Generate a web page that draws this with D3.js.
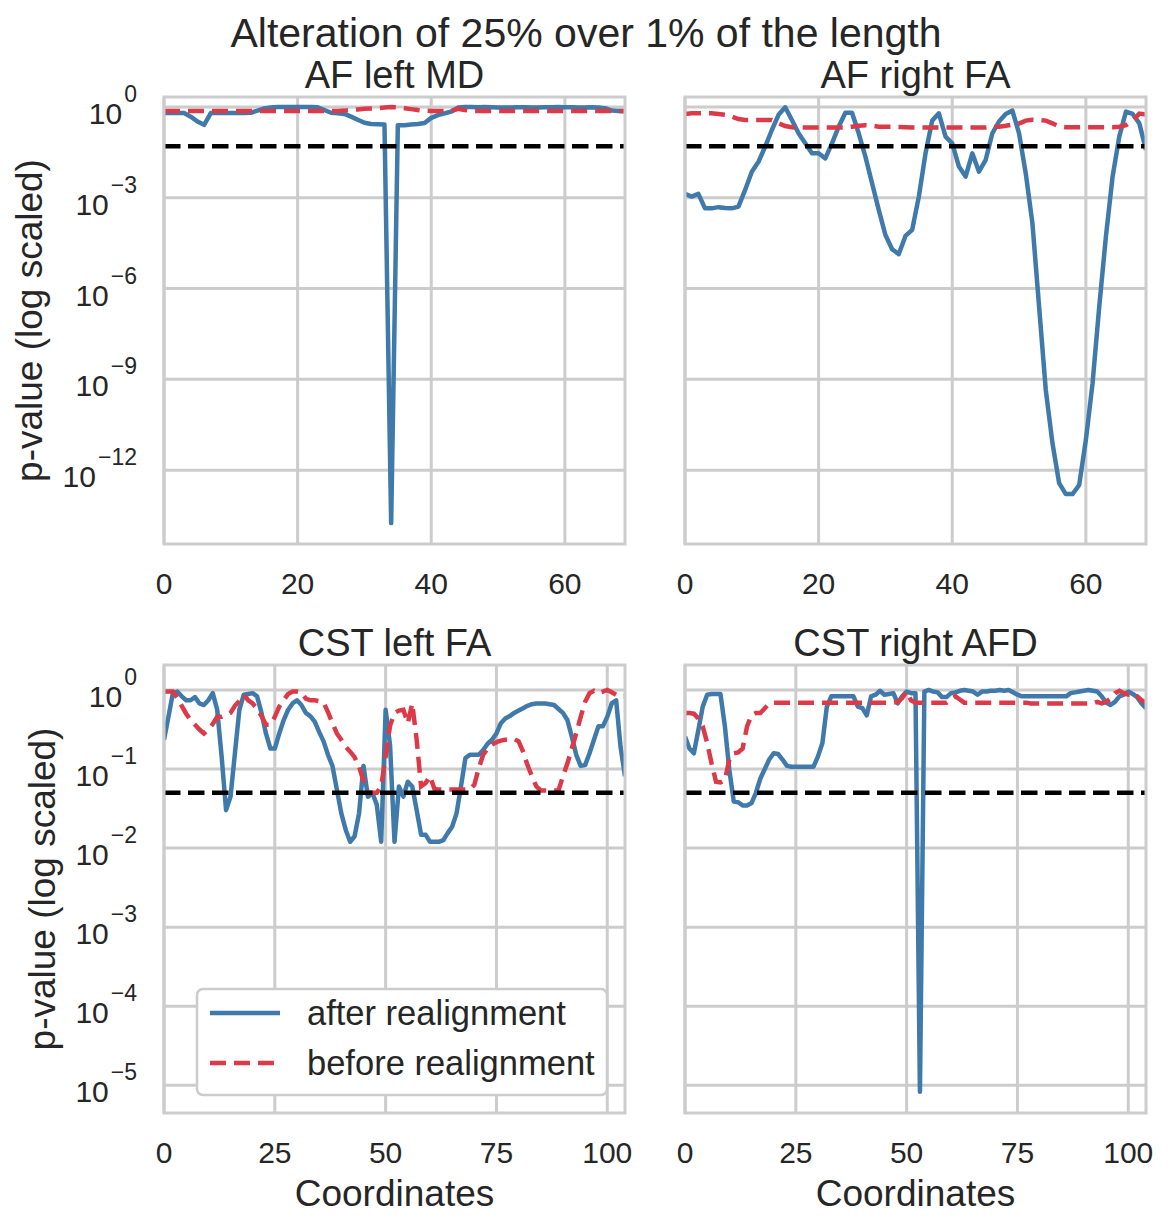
<!DOCTYPE html>
<meta charset="utf-8">
<html>
<head>
    <script src="https://cdnjs.cloudflare.com/ajax/libs/d3/7.8.5/d3.min.js"></script>
    <style type="text/css">
    body {
        margin: 0;
        background: white;
    }
    svg text {
        font-family: "Liberation Sans", Arial, sans-serif;
        fill: #262626;
    }
    </style>
</head>
<body>
<script type="text/javascript">

    // values are log10(p-value)
    var afLeftMD_after = [
        -0.2,-0.2,-0.2,-0.2,-0.32,-0.48,-0.59,-0.2,-0.2,-0.2,
        -0.2,-0.2,-0.2,-0.19,-0.12,-0.05,-0.02,0,0,0,
        0,0,0,-0.01,-0.1,-0.19,-0.21,-0.23,-0.32,-0.42,
        -0.52,-0.56,-0.57,-0.58,-13.75,-0.6,-0.6,-0.58,-0.56,-0.53,
        -0.36,-0.27,-0.21,-0.15,-0.02,0,0,-0.01,0,-0.01,
        -0.02,-0.02,-0.02,-0.01,-0.01,-0.02,-0.02,-0.01,-0.01,0,
        -0.01,-0.01,-0.02,-0.02,-0.01,-0.02,-0.04,-0.12,-0.13,-0.14
    ];
    var afLeftMD_before = [
        -0.13,-0.13,-0.13,-0.13,-0.13,-0.13,-0.13,-0.13,-0.13,-0.13,
        -0.13,-0.13,-0.13,-0.13,-0.13,-0.13,-0.13,-0.13,-0.13,-0.13,
        -0.13,-0.13,-0.13,-0.13,-0.13,-0.13,-0.13,-0.12,-0.1,-0.08,
        -0.06,-0.05,-0.04,-0.02,0,-0.01,-0.04,-0.07,-0.1,-0.12,
        -0.13,-0.13,-0.13,-0.13,-0.06,-0.1,-0.13,-0.13,-0.13,-0.13,
        -0.13,-0.13,-0.13,-0.13,-0.13,-0.13,-0.13,-0.13,-0.13,-0.13,
        -0.13,-0.13,-0.13,-0.13,-0.13,-0.13,-0.13,-0.13,-0.13,-0.13
    ];

    var afRightFA_after = [
        -2.87,-2.96,-2.87,-3.35,-3.35,-3.31,-3.34,-3.35,-3.29,-2.74,
        -2.14,-1.81,-1.31,-0.76,-0.26,-0.01,-0.43,-0.87,-1.2,-1.53,
        -1.53,-1.7,-1.2,-0.65,-0.19,-0.19,-0.87,-1.64,-2.52,-3.4,
        -4.23,-4.7,-4.86,-4.26,-4.06,-2.96,-1.53,-0.45,-0.21,-0.98,
        -1.2,-1.97,-2.3,-1.53,-2.14,-1.75,-0.87,-0.48,-0.23,-0.12,
        -0.87,-2.19,-3.84,-6.6,-9.35,-11.11,-12.43,-12.79,-12.79,-12.49,
        -11.0,-9.13,-6.6,-4.28,-2.3,-0.98,-0.15,-0.23,-0.54,-1.42
    ];
    var afRightFA_before = [
        -0.23,-0.21,-0.21,-0.21,-0.21,-0.23,-0.26,-0.32,-0.4,-0.43,
        -0.43,-0.43,-0.43,-0.43,-0.54,-0.63,-0.67,-0.68,-0.68,-0.68,
        -0.68,-0.68,-0.68,-0.68,-0.68,-0.65,-0.62,-0.6,-0.62,-0.65,
        -0.65,-0.65,-0.66,-0.67,-0.68,-0.68,-0.68,-0.68,-0.68,-0.68,
        -0.68,-0.68,-0.68,-0.68,-0.68,-0.68,-0.66,-0.65,-0.62,-0.58,
        -0.55,-0.45,-0.42,-0.43,-0.45,-0.54,-0.65,-0.67,-0.67,-0.67,
        -0.67,-0.67,-0.67,-0.67,-0.67,-0.65,-0.6,-0.45,-0.22,-0.25
    ];

    var cstLeftFA_after = [
        -0.63,-0.34,-0.04,-0.02,-0.08,-0.13,-0.13,-0.09,-0.17,-0.19,
        -0.13,-0.04,-0.25,-0.84,-1.52,-1.35,-0.8,-0.25,-0.06,-0.05,
        -0.04,-0.08,-0.29,-0.55,-0.74,-0.74,-0.55,-0.38,-0.25,-0.17,
        -0.13,-0.19,-0.29,-0.33,-0.4,-0.53,-0.65,-0.82,-0.96,-1.26,
        -1.56,-1.77,-1.92,-1.85,-1.56,-0.96,-1.35,-1.3,-1.45,-1.92,
        -0.25,-0.7,-1.92,-1.22,-1.35,-1.16,-1.22,-1.52,-1.83,-1.83,
        -1.92,-1.92,-1.92,-1.9,-1.81,-1.73,-1.56,-1.22,-0.86,-0.82,
        -0.82,-0.82,-0.76,-0.68,-0.63,-0.55,-0.42,-0.36,-0.33,-0.29,
        -0.26,-0.23,-0.2,-0.18,-0.17,-0.17,-0.17,-0.18,-0.19,-0.24,
        -0.29,-0.38,-0.59,-0.82,-0.96,-0.95,-0.8,-0.63,-0.46,-0.46,
        -0.34,-0.17,-0.13,-0.72,-1.09
    ];
    var cstLeftFA_before = [
        -0.02,-0.02,-0.02,-0.1,-0.2,-0.3,-0.38,-0.44,-0.5,-0.55,
        -0.5,-0.43,-0.34,-0.34,-0.32,-0.29,-0.2,-0.14,-0.06,-0.13,
        -0.17,-0.24,-0.33,-0.44,-0.44,-0.34,-0.21,-0.13,-0.05,-0.02,
        -0.02,-0.03,-0.11,-0.13,-0.13,-0.14,-0.16,-0.28,-0.42,-0.55,
        -0.63,-0.72,-0.78,-0.85,-0.97,-1.15,-1.3,-1.3,-1.3,-1.22,
        -0.84,-0.45,-0.29,-0.26,-0.25,-0.42,-0.17,-0.63,-1.22,-1.18,
        -1.09,-1.25,-1.26,-1.26,-1.26,-1.26,-1.26,-1.26,-1.26,-1.26,
        -1.2,-0.99,-0.82,-0.74,-0.69,-0.66,-0.64,-0.63,-0.63,-0.62,
        -0.65,-0.78,-0.95,-1.09,-1.22,-1.27,-1.27,-1.27,-1.27,-1.27,
        -1.09,-0.93,-0.74,-0.55,-0.34,-0.15,-0.04,-0.01,-0.04,-0.02,
        0,-0.03,-0.06,-0.08,-0.08
    ];

    var cstRightAFD_after = [
        -0.59,-0.74,-0.8,-0.51,-0.21,-0.06,-0.05,-0.05,-0.05,-0.46,
        -1.01,-1.41,-1.42,-1.46,-1.46,-1.43,-1.3,-1.12,-1.0,-0.88,
        -0.8,-0.81,-0.88,-0.96,-0.97,-0.97,-0.97,-0.97,-0.97,-0.97,
        -0.84,-0.67,-0.21,-0.08,-0.08,-0.08,-0.08,-0.08,-0.08,-0.21,
        -0.23,-0.32,-0.08,-0.06,-0.01,-0.06,-0.05,-0.04,-0.17,-0.08,
        -0.02,-0.04,-0.04,-5.08,-0.02,0,-0.02,-0.03,-0.09,-0.09,
        -0.04,-0.03,-0.01,0,-0.01,-0.02,-0.06,-0.02,-0.02,-0.01,
        -0.01,0,-0.01,0,-0.03,-0.06,-0.08,-0.08,-0.08,-0.08,
        -0.08,-0.08,-0.08,-0.08,-0.08,-0.08,-0.08,-0.04,-0.03,-0.02,
        -0.01,0,-0.01,-0.02,-0.08,-0.16,-0.19,-0.15,-0.08,-0.06,
        -0.02,-0.05,-0.09,-0.17,-0.23
    ];
    var cstRightAFD_before = [
        -0.29,-0.29,-0.3,-0.36,-0.46,-0.67,-0.93,-1.16,-1.17,-1.14,
        -0.88,-0.8,-0.79,-0.74,-0.46,-0.32,-0.29,-0.29,-0.23,-0.17,
        -0.16,-0.16,-0.16,-0.16,-0.16,-0.16,-0.16,-0.16,-0.16,-0.16,
        -0.16,-0.16,-0.16,-0.16,-0.16,-0.16,-0.16,-0.16,-0.16,-0.16,
        -0.16,-0.16,-0.16,-0.16,-0.16,-0.16,-0.16,-0.16,-0.15,-0.1,
        -0.02,-0.13,-0.16,-0.16,-0.16,-0.16,-0.16,-0.16,-0.16,-0.16,
        -0.12,-0.08,-0.12,-0.16,-0.16,-0.16,-0.16,-0.16,-0.16,-0.16,
        -0.16,-0.16,-0.16,-0.16,-0.16,-0.16,-0.16,-0.16,-0.17,-0.17,
        -0.17,-0.17,-0.17,-0.17,-0.17,-0.17,-0.17,-0.17,-0.17,-0.17,
        -0.17,-0.17,-0.17,-0.15,-0.17,-0.15,-0.11,-0.04,-0.01,-0.04,
        -0.06,-0.04,-0.08,-0.13,-0.16
    ];

    var titles = ["AF left MD", "AF right FA", "CST left FA", "CST right AFD"];
    var topYTicks = [0, -3, -6, -9, -12];       // exponents
    var bottomYTicks = [0, -1, -2, -3, -4, -5];
    var topXTicks = [0, 20, 40, 60];
    var bottomXTicks = [0, 25, 50, 75, 100];
    var alpha = 0.05;
    var legendLabels = ["after realignment", "before realignment"];

    var blue = "#3f7aab",
        red = "#dc3a48",
        gridColor = "#cccccc";

    var svg = d3.select("body")
                .append("svg")
                .attr("width", 1171)
                .attr("height", 1227);

    svg.append("text")
       .attr("x", 586)
       .attr("y", 47)
       .attr("text-anchor", "middle")
       .style("font-size", "41px")
       .text("Alteration of 25% over 1% of the length");

    var cols = [164, 685], colW = 461;
    var rows = [{top: 97, bottom: 544, dom: [-14.44, 0.33], yt: topYTicks, xt: topXTicks, xmax: 69},
                {top: 665, bottom: 1113, dom: [-5.35, 0.316], yt: bottomYTicks, xt: bottomXTicks, xmax: 104}];

    var panels = [
        {r: 0, c: 0, after: afLeftMD_after, before: afLeftMD_before},
        {r: 0, c: 1, after: afRightFA_after, before: afRightFA_before},
        {r: 1, c: 0, after: cstLeftFA_after, before: cstLeftFA_before},
        {r: 1, c: 1, after: cstRightAFD_after, before: cstRightAFD_before}
    ];

    panels.forEach(function(p, i) {
        var row = rows[p.r];
        var x0 = cols[p.c];
        var x = d3.scaleLinear().domain([0, row.xmax]).range([x0, x0 + colW]);
        var y = d3.scaleLog().domain([Math.pow(10, row.dom[0]), Math.pow(10, row.dom[1])])
                  .range([row.bottom, row.top]);

        var g = svg.append("g");

        g.append("clipPath").attr("id", "clip" + i)
         .append("rect")
         .attr("x", x0).attr("y", row.top)
         .attr("width", colW).attr("height", row.bottom - row.top);

        // grid
        g.selectAll(".gy").data(row.yt).enter().append("line")
         .attr("x1", x0).attr("x2", x0 + colW)
         .attr("y1", function(e) { return y(Math.pow(10, e)); })
         .attr("y2", function(e) { return y(Math.pow(10, e)); })
         .attr("stroke", gridColor).attr("stroke-width", 3);
        g.selectAll(".gx").data(row.xt).enter().append("line")
         .attr("x1", function(d) { return x(d); })
         .attr("x2", function(d) { return x(d); })
         .attr("y1", row.top).attr("y2", row.bottom)
         .attr("stroke", gridColor).attr("stroke-width", 3);

        var line = d3.line()
                     .x(function(d, k) { return x(k); })
                     .y(function(d) { return y(Math.pow(10, d)); });

        var plot = g.append("g").attr("clip-path", "url(#clip" + i + ")");
        plot.append("path").datum(p.after)
            .attr("d", line)
            .attr("fill", "none").attr("stroke", blue)
            .attr("stroke-width", 4.5).attr("stroke-linejoin", "round");
        plot.append("path").datum(p.before)
            .attr("d", line)
            .attr("fill", "none").attr("stroke", red)
            .attr("stroke-width", 4.5).attr("stroke-dasharray", "16,8");
        plot.append("line")
            .attr("x1", x(0)).attr("x2", x(row.xmax))
            .attr("y1", y(alpha)).attr("y2", y(alpha))
            .attr("stroke", "black").attr("stroke-width", 4.5)
            .attr("stroke-dasharray", "16.5,7.5");

        // frame
        g.append("rect")
         .attr("x", x0).attr("y", row.top)
         .attr("width", colW).attr("height", row.bottom - row.top)
         .attr("fill", "none").attr("stroke", gridColor).attr("stroke-width", 3);

        // x tick labels
        g.selectAll(".xl").data(row.xt).enter().append("text")
         .attr("x", function(d) { return x(d); })
         .attr("y", row.bottom + 50)
         .attr("text-anchor", "middle")
         .style("font-size", "30px")
         .text(function(d) { return d; });

        // y tick labels only on the left column
        if (p.c === 0) {
            var yl = g.selectAll(".yl").data(row.yt).enter().append("text")
                      .attr("x", 137)
                      .attr("y", function(e) { return y(Math.pow(10, e)) + 17; })
                      .attr("text-anchor", "end")
                      .style("font-size", "30px")
                      .text("10");
            yl.append("tspan")
              .attr("dx", 2)
              .attr("dy", -22)
              .style("font-size", "23px")
              .text(function(e) { return e === 0 ? "0" : "\u2212" + (-e); });

            var lx = p.r === 0 ? 42 : 55;
            g.append("text")
             .attr("transform", "translate(" + lx + "," + ((row.top + row.bottom) / 2) + ") rotate(-90)")
             .attr("text-anchor", "middle")
             .style("font-size", "37px")
             .text("p-value (log scaled)");
        }

        if (p.r === 1) {
            g.append("text")
             .attr("x", x0 + colW / 2)
             .attr("y", 1206)
             .attr("text-anchor", "middle")
             .style("font-size", "37px")
             .text("Coordinates");
        }

        g.append("text")
         .attr("x", x0 + colW / 2)
         .attr("y", row.top - 9)
         .attr("text-anchor", "middle")
         .style("font-size", "38px")
         .text(titles[i]);
    });

    // legend in the lower left panel
    var leg = svg.append("g");
    leg.append("rect")
       .attr("x", 197).attr("y", 989)
       .attr("width", 410).attr("height", 106)
       .attr("rx", 6)
       .attr("fill", "white").attr("stroke", gridColor).attr("stroke-width", 2.5);
    leg.selectAll(".ll").data(legendLabels).enter().append("line")
       .attr("x1", 210).attr("x2", 280)
       .attr("y1", function(d, k) { return 1013 + k * 50; })
       .attr("y2", function(d, k) { return 1013 + k * 50; })
       .attr("stroke", function(d, k) { return k === 0 ? blue : red; })
       .attr("stroke-width", 4.5)
       .attr("stroke-dasharray", function(d, k) { return k === 0 ? null : "16,8"; });
    leg.selectAll(".lt").data(legendLabels).enter().append("text")
       .attr("x", 307)
       .attr("y", function(d, k) { return 1025 + k * 50; })
       .style("font-size", "34.5px")
       .text(function(d) { return d; });

</script>
</body>
</html>
